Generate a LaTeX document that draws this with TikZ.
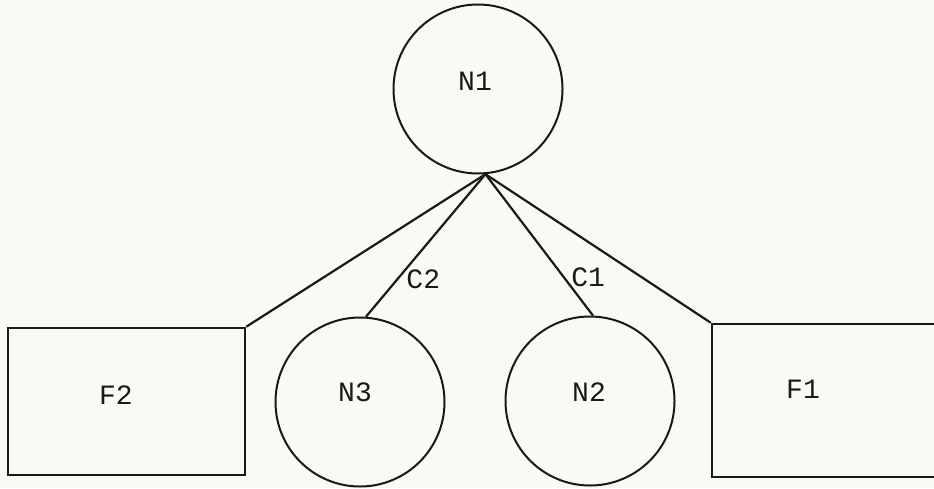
\documentclass[tikz,border=0pt]{standalone}
\usepackage{fontspec}
\setmonofont{Liberation Mono}
\definecolor{paper}{RGB}{250,249,243}
\definecolor{ink}{RGB}{25,25,25}
\tikzset{
  every node/.style={font=\ttfamily\fontsize{28}{28}\selectfont, text=ink},
  circ/.style={draw=ink, line width=2pt, circle, minimum size=169pt, inner sep=0pt},
  filebox/.style={draw=ink, line width=2.6pt, rectangle, inner sep=0pt},
  link/.style={draw=ink, line width=2.2pt},
}
\begin{document}
\begin{tikzpicture}[x=1pt,y=-1pt]
  \useasboundingbox (0,0) rectangle (934,488);
  \fill[paper] (0,0) rectangle (934,488);
  \clip (0,0) rectangle (934,488);

  % nodes
  \node[circ] (N1) at (478,89) {};
  \node (N1t) at (475,81) {N1};
  \node[circ] (N3) at (360,402) {};
  \node (N3t) at (355,392) {N3};
  \node[circ] (N2) at (590,401) {};
  \node (N2t) at (589,392) {N2};

  \node[filebox, minimum width=237pt, minimum height=147pt] (F2) at (126.5,401.5) {};
  \node (F2t) at (116,395) {F2};
  \node[filebox, minimum width=250pt, minimum height=153pt] (F1) at (837,400.5) {};
  \node (F1t) at (803,389) {F1};

  % connectors from the bottom of N1
  \coordinate (hub) at (N1.-85);
  \draw[link] (hub) -- (F2.north east);
  \draw[link] (hub) -- node[pos=0.74, anchor=west, xshift=5pt] (C2) {C2} (N3.86);
  \draw[link] (hub) -- node[pos=0.73, anchor=west, xshift=3pt] (C1) {C1} (N2.88);
  \draw[link] (hub) -- (F1.north west);
\end{tikzpicture}
\end{document}
